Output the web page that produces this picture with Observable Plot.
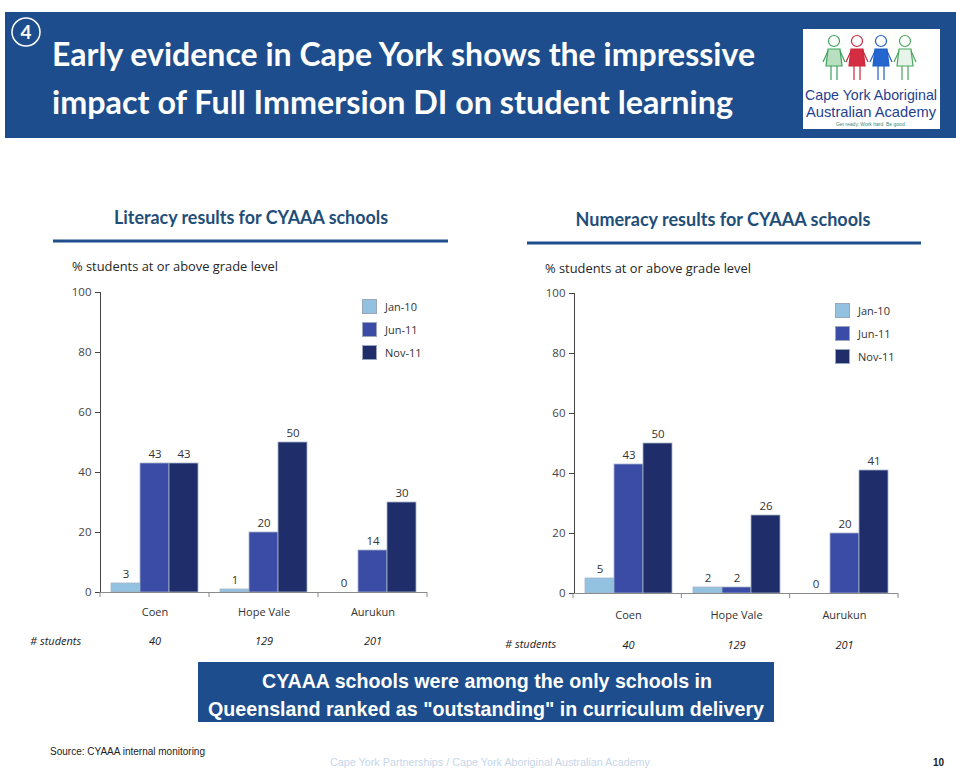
<!DOCTYPE html>
<html>
<head>
<meta charset="utf-8">
<script src="https://cdn.jsdelivr.net/npm/d3@7"></script>
<script src="https://cdn.jsdelivr.net/npm/@observablehq/plot@0.6"></script>
<style>
  html, body { margin: 0; padding: 0; background: #fff; }
  #page { position: relative; width: 956px; height: 770px; overflow: hidden; background: #fff; font-family: "Open Sans", sans-serif; }
  .abs { position: absolute; }
  .legend { position: absolute; font-family: "Open Sans", sans-serif; font-size: 11px; color: #333; }
  .legend div { height: 23px; display: flex; align-items: center; }
  .legend span.sw { display: inline-block; width: 15px; height: 15px; margin-right: 8px; border: 1px solid #9aa6bd; box-sizing: border-box; }
  .students { position: absolute; font-family: "Open Sans", sans-serif; font-size: 11px; font-style: italic; color: #222; }
</style>
</head>
<body>
<div id="page">
  <svg id="deco" class="abs" width="956" height="770" style="left:0;top:0"></svg>
  <div id="lit" class="abs" style="left:0;top:270px"></div>
  <div id="num" class="abs" style="left:478px;top:271px"></div>
  <div id="legLit" class="legend" style="left:362px;top:295px"></div>
  <div id="legNum" class="legend" style="left:835px;top:299px"></div>
  <div class="students" style="left:30px;top:633px"># students</div>
  <div class="students" style="left:505px;top:636px"># students</div>
</div>
<script>
// ---------- data ----------
const schools = ["Coen", "Hope Vale", "Aurukun"];
const periods = ["Jan-10", "Jun-11", "Nov-11"];
const studentCounts = [40, 129, 201];
const literacyJan10 = [3, 1, 0];
const literacyJun11 = [43, 20, 14];
const literacyNov11 = [43, 50, 30];
const numeracyJan10 = [5, 2, 0];
const numeracyJun11 = [43, 2, 20];
const numeracyNov11 = [50, 26, 41];
const yTicks = [0, 20, 40, 60, 80, 100];
const periodColors = ["#93c2e0", "#3a4ca5", "#1f2d6b"];

function rows(a, b, c) {
  const series = [a, b, c];
  const out = [];
  schools.forEach((s, i) => periods.forEach((p, j) => out.push({school: s, period: p, value: series[j][i]})));
  return out;
}
const literacy = rows(literacyJan10, literacyJun11, literacyNov11);
const numeracy = rows(numeracyJan10, numeracyJun11, numeracyNov11);
const studentRows = schools.map((s, i) => ({school: s, n: studentCounts[i]}));

function chart(data, m) {
  const width = 440, height = 385;
  const p = Plot.plot({
    width, height,
    marginLeft: m.left, marginRight: m.right, marginTop: m.top, marginBottom: height - m.base,
    style: {fontFamily: "Open Sans, sans-serif", fontSize: "11.5px", color: "#444", background: "transparent", overflow: "visible"},
    fx: {domain: schools, padding: 0, label: null, axis: null},
    x: {domain: periods, paddingInner: 0, paddingOuter: 0.32, axis: null},
    y: {domain: [0, 100], ticks: yTicks, tickSize: 5, tickPadding: 4, line: true, label: null},
    color: {domain: periods, range: periodColors},
    marks: [
      Plot.barY(data, {fx: "school", x: "period", y: "value", fill: "period", stroke: "#a9b4c9", strokeWidth: 0.8, inset: 0}),
      Plot.text(data, {fx: "school", x: "period", y: "value", text: d => String(d.value), dy: -9, fill: "#333", fontSize: 11.5}),
      Plot.ruleY([0], {stroke: "#8a8a8a"}),
      Plot.axisFx({anchor: "bottom", tickSize: 0, tickPadding: m.catPad, label: null, fill: "#333", fontSize: 11}),
      Plot.text(studentRows, {fx: "school", text: d => String(d.n), frameAnchor: "bottom", dy: m.numDy, fontStyle: "italic", fill: "#222", fontSize: 11})
    ]
  });
  // category boundary ticks below the baseline, from the same band layout as fx
  const fx = d3.scaleBand().domain(schools).range([m.left, width - m.right]).padding(0);
  const svg = d3.select(p.tagName.toLowerCase() === "svg" ? p : p.querySelector("svg"));
  svg.append("g").selectAll("line").data(schools).join("line")
    .attr("x1", d => fx(d) + fx.bandwidth()).attr("x2", d => fx(d) + fx.bandwidth())
    .attr("y1", m.base).attr("y2", m.base + 5).attr("stroke", "#8a8a8a");
  svg.append("line").attr("x1", m.left).attr("x2", m.left).attr("y1", m.base).attr("y2", m.base + 5).attr("stroke", "#8a8a8a");
  return p;
}

document.getElementById("lit").appendChild(chart(literacy, {left: 100, right: 13, top: 22, base: 322, catPad: 16, numDy: 52}));
document.getElementById("num").appendChild(chart(numeracy, {left: 95, right: 20, top: 22, base: 322, catPad: 18, numDy: 55}));

function legend(id) {
  const el = document.getElementById(id);
  periods.forEach((p, i) => {
    const row = document.createElement("div");
    row.innerHTML = `<span class="sw" style="background:${periodColors[i]}"></span>${p}`;
    el.appendChild(row);
  });
}
legend("legLit");
legend("legNum");

// ---------- slide decoration (header, titles, banner, footer) ----------
const deco = d3.select("#deco");
const blue = "#1d4d8c";
deco.append("rect").attr("x", 5).attr("y", 12).attr("width", 951).attr("height", 126).attr("fill", blue);
deco.append("circle").attr("cx", 26).attr("cy", 32).attr("r", 14).attr("fill", "none").attr("stroke", "#fff").attr("stroke-width", 1.5);
deco.append("text").attr("x", 26).attr("y", 39).attr("text-anchor", "middle").attr("fill", "#fff")
  .attr("font-family", "Lato").attr("font-weight", 700).attr("font-size", 19).text("4");
const titleLines = ["Early evidence in Cape York shows the impressive", "impact of Full Immersion DI on student learning"];
const titleBase = [66, 114], titleLen = [703, 681];
titleLines.forEach((t, i) => deco.append("text").attr("x", 52).attr("y", titleBase[i])
  .attr("fill", "#fff").attr("font-family", "Lato").attr("font-weight", 700).attr("font-size", 33)
  .attr("textLength", titleLen[i]).attr("lengthAdjust", "spacingAndGlyphs").text(t));

// logo
deco.append("rect").attr("x", 803).attr("y", 29).attr("width", 137).attr("height", 100).attr("fill", "#fff");
const figs = [{x: 834, c: "#3aa35a", fill: "#b8e0c0"}, {x: 857, c: "#c8283c", fill: "#d42c40"}, {x: 881, c: "#1f5fc4", fill: "#2466cf"}, {x: 905, c: "#4aa65e", fill: "#e8f4ea"}];
figs.forEach(f => {
  const g = deco.append("g").attr("stroke", f.c).attr("stroke-width", 1.2).attr("fill", "none");
  g.append("circle").attr("cx", f.x).attr("cy", 41).attr("r", 5.5).attr("fill", "#fff");
  g.append("path").attr("d", `M${f.x - 6},49 L${f.x + 6},49 L${f.x + 8},66 L${f.x - 8},66 Z`).attr("fill", f.fill);
  g.append("path").attr("d", `M${f.x - 3},66 L${f.x - 3},80 M${f.x + 3},66 L${f.x + 3},80 M${f.x - 6},51 L${f.x - 11},62 M${f.x + 6},51 L${f.x + 11},62`);
});
deco.append("text").attr("x", 871).attr("y", 100).attr("text-anchor", "middle").attr("fill", "#1f3f8f")
  .attr("font-family", "Liberation Sans Narrow, Liberation Sans").attr("font-size", 15)
  .attr("textLength", 132).attr("lengthAdjust", "spacingAndGlyphs").text("Cape York Aboriginal");
deco.append("text").attr("x", 871).attr("y", 117).attr("text-anchor", "middle").attr("fill", "#1f3f8f")
  .attr("font-family", "Liberation Sans Narrow, Liberation Sans").attr("font-size", 15)
  .attr("textLength", 130).attr("lengthAdjust", "spacingAndGlyphs").text("Australian Academy");
deco.append("text").attr("x", 871).attr("y", 125.5).attr("text-anchor", "middle").attr("fill", "#3a8a7a")
  .attr("font-family", "Liberation Sans").attr("font-size", 5).text("Get ready. Work hard. Be good.");

// chart titles and rules
const charts = [
  {t: "Literacy results for CYAAA schools", cx: 251, ty: 224, tl: 274, x1: 53, x2: 448, ly: 241, sx: 72, sy: 271},
  {t: "Numeracy results for CYAAA schools", cx: 723, ty: 226, tl: 295, x1: 527, x2: 921, ly: 243, sx: 545, sy: 273}
];
charts.forEach(c => {
  deco.append("text").attr("x", c.cx).attr("y", c.ty).attr("text-anchor", "middle").attr("fill", "#1f4e79")
    .attr("font-family", "Lato").attr("font-weight", 700).attr("font-size", 18)
    .attr("textLength", c.tl).attr("lengthAdjust", "spacingAndGlyphs").text(c.t);
  deco.append("line").attr("x1", c.x1).attr("x2", c.x2).attr("y1", c.ly).attr("y2", c.ly).attr("stroke", "#1f4e8c").attr("stroke-width", 3);
  deco.append("text").attr("x", c.sx).attr("y", c.sy).attr("fill", "#262626")
    .attr("font-family", "Open Sans").attr("font-size", 13)
    .attr("textLength", 206).attr("lengthAdjust", "spacingAndGlyphs").text("% students at or above grade level");
});

// bottom banner
deco.append("rect").attr("x", 198).attr("y", 662).attr("width", 576).attr("height", 60).attr("fill", blue);
deco.append("text").attr("x", 487).attr("y", 688).attr("text-anchor", "middle").attr("fill", "#fff")
  .attr("font-family", "Liberation Sans").attr("font-weight", 700).attr("font-size", 21)
  .attr("textLength", 450).attr("lengthAdjust", "spacingAndGlyphs").text("CYAAA schools were among the only schools in");
deco.append("text").attr("x", 486).attr("y", 716).attr("text-anchor", "middle").attr("fill", "#fff")
  .attr("font-family", "Liberation Sans").attr("font-weight", 700).attr("font-size", 21)
  .attr("textLength", 556).attr("lengthAdjust", "spacingAndGlyphs").text("Queensland ranked as \"outstanding\" in curriculum delivery");

// footer
deco.append("text").attr("x", 50).attr("y", 755).attr("fill", "#222").attr("font-family", "Liberation Sans").attr("font-size", 10)
  .attr("textLength", 155).attr("lengthAdjust", "spacingAndGlyphs").text("Source: CYAAA internal monitoring");
deco.append("text").attr("x", 490).attr("y", 766).attr("text-anchor", "middle").attr("fill", "#c6d6ea").attr("font-family", "Liberation Sans").attr("font-size", 10)
  .attr("textLength", 320).attr("lengthAdjust", "spacingAndGlyphs").text("Cape York Partnerships / Cape York Aboriginal Australian Academy");
deco.append("text").attr("x", 944).attr("y", 766).attr("text-anchor", "end").attr("fill", "#222").attr("font-family", "Liberation Sans").attr("font-weight", 700).attr("font-size", 10).text("10");
</script>
</body>
</html>
